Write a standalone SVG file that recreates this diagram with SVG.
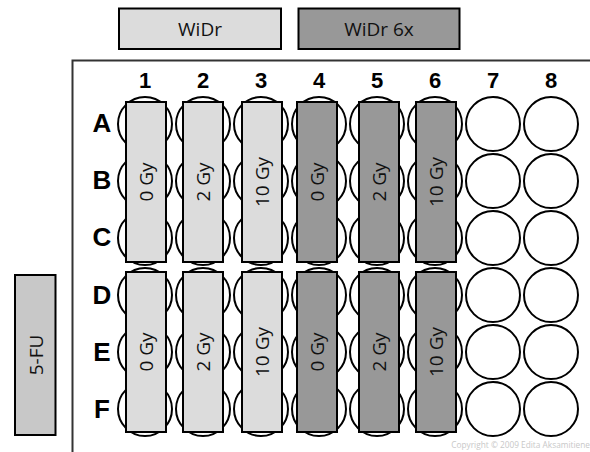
<svg xmlns="http://www.w3.org/2000/svg" width="590" height="452" viewBox="0 0 590 452">
<style>
.well{fill:#fff;stroke:#000;stroke-width:2}
.lt{fill:#dcdcdc;stroke:#000;stroke-width:2}
.dk{fill:#989898;stroke:#000;stroke-width:2}
.lbl{font-family:"Open Sans","DejaVu Sans",sans-serif;font-size:19px;fill:#111;text-anchor:middle;dominant-baseline:central}
.hd{font-family:"Liberation Sans",Arial,sans-serif;font-weight:bold;fill:#000;text-anchor:middle}
.frame{stroke:#333;stroke-width:2;fill:none}
</style>
<rect width="590" height="452" fill="#fff"/>
<g id="legend-widr"><rect class="lt" x="119" y="8.5" width="162" height="40.5"/><text class="lbl" x="200" y="29">WiDr</text></g>
<g id="legend-widr6x"><rect class="dk" x="298.5" y="8.5" width="161" height="40.5"/><text class="lbl" x="379" y="29">WiDr 6x</text></g>
<g id="legend-5fu"><rect fill="#c8c8c8" stroke="#000" stroke-width="2" x="15" y="275" width="40.5" height="160"/><text class="lbl" transform="translate(35.5 355) rotate(-90)">5-FU</text></g>
<g id="plate-frame"><path class="frame" d="M72.5 452V60.5H590"/></g>
<g id="col-labels" class="hd" font-size="22">
<text x="145" y="88">1</text><text x="203" y="88">2</text><text x="261" y="88">3</text><text x="319" y="88">4</text><text x="377" y="88">5</text><text x="435" y="88">6</text><text x="493" y="88">7</text><text x="551" y="88">8</text>
</g>
<g id="row-labels" class="hd" font-size="26">
<text x="102" y="132">A</text><text x="102" y="189">B</text><text x="102" y="246">C</text><text x="102" y="304">D</text><text x="102" y="361">E</text><text x="102" y="418">F</text>
</g>
<g id="wells">
<g id="col1"><circle class="well" cx="145" cy="124" r="27"/><circle class="well" cx="145" cy="181" r="27"/><circle class="well" cx="145" cy="238" r="27"/><circle class="well" cx="145" cy="295" r="27"/><circle class="well" cx="145" cy="352" r="27"/><circle class="well" cx="145" cy="409" r="27"/></g>
<g id="col2"><circle class="well" cx="203" cy="124" r="27"/><circle class="well" cx="203" cy="181" r="27"/><circle class="well" cx="203" cy="238" r="27"/><circle class="well" cx="203" cy="295" r="27"/><circle class="well" cx="203" cy="352" r="27"/><circle class="well" cx="203" cy="409" r="27"/></g>
<g id="col3"><circle class="well" cx="261" cy="124" r="27"/><circle class="well" cx="261" cy="181" r="27"/><circle class="well" cx="261" cy="238" r="27"/><circle class="well" cx="261" cy="295" r="27"/><circle class="well" cx="261" cy="352" r="27"/><circle class="well" cx="261" cy="409" r="27"/></g>
<g id="col4"><circle class="well" cx="319" cy="124" r="27"/><circle class="well" cx="319" cy="181" r="27"/><circle class="well" cx="319" cy="238" r="27"/><circle class="well" cx="319" cy="295" r="27"/><circle class="well" cx="319" cy="352" r="27"/><circle class="well" cx="319" cy="409" r="27"/></g>
<g id="col5"><circle class="well" cx="377" cy="124" r="27"/><circle class="well" cx="377" cy="181" r="27"/><circle class="well" cx="377" cy="238" r="27"/><circle class="well" cx="377" cy="295" r="27"/><circle class="well" cx="377" cy="352" r="27"/><circle class="well" cx="377" cy="409" r="27"/></g>
<g id="col6"><circle class="well" cx="435" cy="124" r="27"/><circle class="well" cx="435" cy="181" r="27"/><circle class="well" cx="435" cy="238" r="27"/><circle class="well" cx="435" cy="295" r="27"/><circle class="well" cx="435" cy="352" r="27"/><circle class="well" cx="435" cy="409" r="27"/></g>
<g id="col7"><circle class="well" cx="493" cy="124" r="27"/><circle class="well" cx="493" cy="181" r="27"/><circle class="well" cx="493" cy="238" r="27"/><circle class="well" cx="493" cy="295" r="27"/><circle class="well" cx="493" cy="352" r="27"/><circle class="well" cx="493" cy="409" r="27"/></g>
<g id="col8"><circle class="well" cx="551" cy="124" r="27"/><circle class="well" cx="551" cy="181" r="27"/><circle class="well" cx="551" cy="238" r="27"/><circle class="well" cx="551" cy="295" r="27"/><circle class="well" cx="551" cy="352" r="27"/><circle class="well" cx="551" cy="409" r="27"/></g>
</g>
<g id="t-1a"><rect class="lt" x="126" y="102" width="40" height="160"/><text class="lbl" transform="translate(146 182) rotate(-90)">0 Gy</text></g>
<g id="t-2a"><rect class="lt" x="183" y="102" width="40" height="160"/><text class="lbl" transform="translate(203 182) rotate(-90)">2 Gy</text></g>
<g id="t-3a"><rect class="lt" x="242" y="102" width="40" height="160"/><text class="lbl" transform="translate(262 182) rotate(-90)">10 Gy</text></g>
<g id="t-4a"><rect class="dk" x="297" y="102" width="40" height="160"/><text class="lbl" transform="translate(317 182) rotate(-90)">0 Gy</text></g>
<g id="t-5a"><rect class="dk" x="359" y="102" width="40" height="160"/><text class="lbl" transform="translate(379 182) rotate(-90)">2 Gy</text></g>
<g id="t-6a"><rect class="dk" x="416" y="102" width="40" height="160"/><text class="lbl" transform="translate(436 182) rotate(-90)">10 Gy</text></g>
<g id="t-1b"><rect class="lt" x="126" y="272" width="40" height="160"/><text class="lbl" transform="translate(146 352) rotate(-90)">0 Gy</text></g>
<g id="t-2b"><rect class="lt" x="183" y="272" width="40" height="160"/><text class="lbl" transform="translate(203 352) rotate(-90)">2 Gy</text></g>
<g id="t-3b"><rect class="lt" x="242" y="272" width="40" height="160"/><text class="lbl" transform="translate(262 352) rotate(-90)">10 Gy</text></g>
<g id="t-4b"><rect class="dk" x="297" y="272" width="40" height="160"/><text class="lbl" transform="translate(317 352) rotate(-90)">0 Gy</text></g>
<g id="t-5b"><rect class="dk" x="359" y="272" width="40" height="160"/><text class="lbl" transform="translate(379 352) rotate(-90)">2 Gy</text></g>
<g id="t-6b"><rect class="dk" x="416" y="272" width="40" height="160"/><text class="lbl" transform="translate(436 352) rotate(-90)">10 Gy</text></g>
<text x="590" y="448" font-family="'Open Sans','DejaVu Sans',sans-serif" font-size="8.3" fill="#c8c8c8" text-anchor="end">Copyright © 2009 Edita Aksamitiene</text>
</svg>
